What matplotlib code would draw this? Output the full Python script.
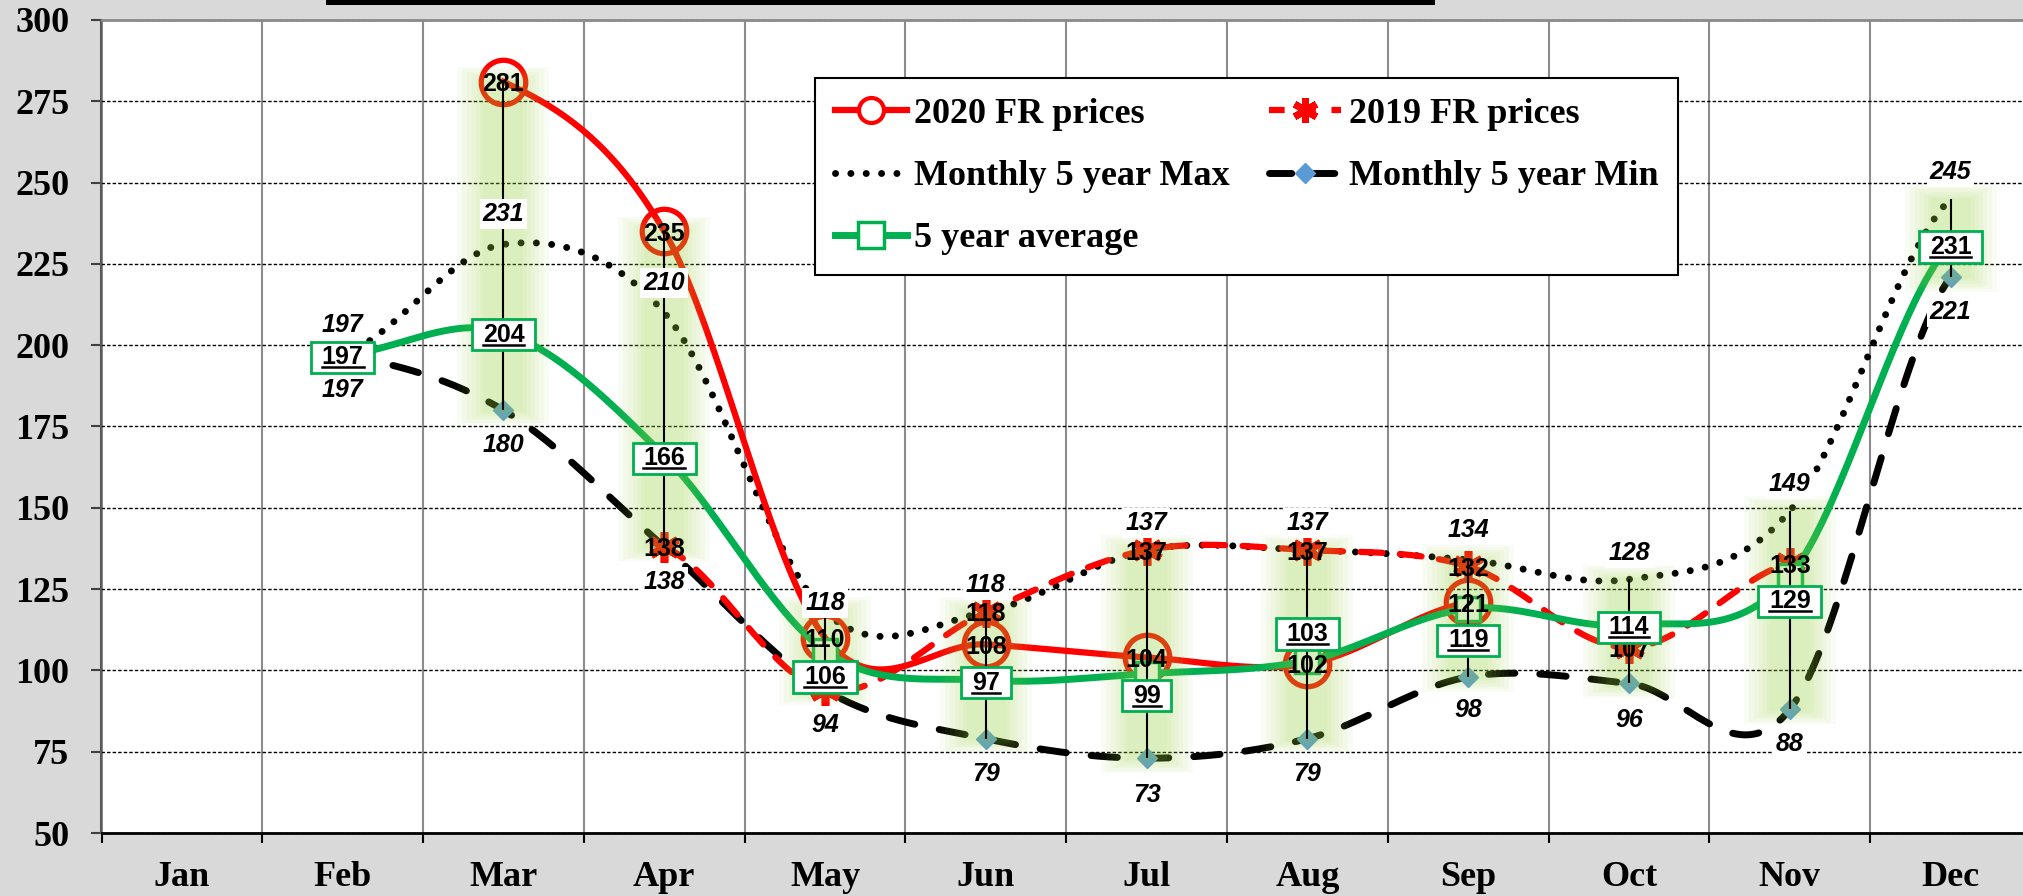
import numpy as np
import matplotlib
matplotlib.use('Agg')
import matplotlib.pyplot as plt
from matplotlib.lines import Line2D
from matplotlib.patches import Rectangle

# ---------------- data ----------------
months = ['Jan', 'Feb', 'Mar', 'Apr', 'May', 'Jun', 'Jul', 'Aug', 'Sep', 'Oct', 'Nov', 'Dec']
nan = np.nan
prices_2020 = [nan, nan, 281, 235, 110, 108, 104, 102, 121, nan, nan, nan]
prices_2019 = [nan, nan, nan, 138, 94, 118, 137, 137, 132, 107, 133, nan]
max_5y = [nan, 197, 231, 210, 118, 118, 137, 137, 134, 128, 149, 245]
min_5y = [nan, 197, 180, 138, 94, 79, 73, 79, 98, 96, 88, 221]
avg_5y = [nan, 197, 204, 166, 106, 97, 99, 103, 119, 114, 129, 231]
show_2019_label = [False, False, False, True, False, True, True, True, True, True, True, False]
y_ticks = [50, 75, 100, 125, 150, 175, 200, 225, 250, 275, 300]

# label placement (value-unit offsets) - styling only
max_lbl_off = [0, 10, 10, 10, 3.5, 9, 9, 9, 10, 9, 9, 9]
min_lbl_off = [0, -10, -10, -10, -10, -10, -10.5, -10, -9.5, -10.5, -10, -10]
avg_lbl_off = [0, 0, 0, 0, -7.3, 0, -6, 9, -9, 0, -7, 0]

RED = '#ff0000'
GREEN = '#00b050'
SERIF = 'Liberation Serif'
SANS = 'Liberation Sans'


def smooth(xs, ys, n=40):
    xs = np.asarray(xs, float)
    ys = np.asarray(ys, float)
    m = ~np.isnan(ys)
    xx, yy = xs[m], ys[m]
    k = len(yy)
    t = np.empty(k)
    for i in range(k):
        if i == 0:
            t[i] = (yy[1] - yy[0]) / 2
        elif i == k - 1:
            t[i] = (yy[-1] - yy[-2]) / 2
        else:
            t[i] = (yy[i + 1] - yy[i - 1]) / 2
    X, Y = [], []
    for i in range(k - 1):
        s = np.linspace(0, 1, n)
        h00 = 2 * s**3 - 3 * s**2 + 1
        h10 = s**3 - 2 * s**2 + s
        h01 = -2 * s**3 + 3 * s**2
        h11 = s**3 - s**2
        Y.append(h00 * yy[i] + h10 * t[i] + h01 * yy[i + 1] + h11 * t[i + 1])
        X.append(xx[i] + s * (xx[i + 1] - xx[i]))
    return np.concatenate(X), np.concatenate(Y)


W, H = 2024, 896
fig = plt.figure(figsize=(W / 100, H / 100), dpi=100, facecolor='#d9d9d9')
ax = fig.add_axes([101.5 / W, 63 / H, 1929.5 / W, 813 / H])
ax.set_facecolor('white')
x = np.arange(len(months))

# title bar remnant at top
fig.add_artist(Rectangle((326 / W, 1 - 5 / H), (1435 - 326) / W, 5 / H,
                         transform=fig.transFigure, color='black', lw=0))

# ---------------- axes styling ----------------
ax.set_xlim(-0.5, 11.5)
ax.set_ylim(50, 300)
ax.set_yticks(y_ticks)
ax.set_yticklabels([str(v) for v in y_ticks], fontfamily=SERIF, fontweight='bold', fontsize=26)
ax.set_xticks(np.arange(-0.5, 12, 1))
ax.set_xticklabels([])
ax.set_xticks(x, minor=True)
ax.set_xticklabels(months, minor=True, fontfamily=SERIF, fontweight='bold', fontsize=26)
ax.tick_params(axis='y', length=7, width=1.5, color='#404040', pad=16)
ax.tick_params(axis='x', which='major', length=7.5, width=1.5, color='black')
ax.tick_params(axis='x', which='minor', length=0, pad=20)
ax.yaxis.grid(True, color='black', ls=(0, (2.5, 1.5)), lw=1)
ax.xaxis.grid(True, which='major', color='#8c8c8c', lw=1.5, ls='-')
ax.set_axisbelow(True)
ax.spines['top'].set_color('#8a8a8a')
ax.spines['top'].set_linewidth(2)
ax.spines['left'].set_color('#595959')
ax.spines['left'].set_linewidth(1.5)
ax.spines['bottom'].set_color('black')
ax.spines['bottom'].set_linewidth(2)
ax.spines['right'].set_visible(False)

# ---------------- series ----------------
sx, sy = smooth(x, min_5y)
ax.plot(sx, sy, color='black', lw=5, ls=(0, (3.8, 3.6)), dash_capstyle='round', zorder=2)
ax.plot(x, min_5y, ls='none', marker='D', ms=10, mfc='#5b9bd5', mec='#5b9bd5', zorder=2.05)

sx, sy = smooth(x, max_5y)
ax.plot(sx, sy, color='black', lw=5, ls=(0, (0.01, 2.2)), dash_capstyle='round', zorder=2.1)

sx, sy = smooth(x, prices_2019)
ax.plot(sx, sy, color=RED, lw=4.5, ls=(0, (3.5, 2.8)), dash_capstyle='round', zorder=2.2)
ax.plot(x, prices_2019, ls='none', marker=(6, 2, 0), ms=22, mew=5.5, color=RED, zorder=2.25)

sx, sy = smooth(x, prices_2020)
ax.plot(sx, sy, color=RED, lw=4.5, zorder=2.3)
ax.plot(x, prices_2020, ls='none', marker='o', ms=32, mfc='none', mec=RED, mew=3.8, zorder=2.35)

sx, sy = smooth(x, avg_5y)
ax.plot(sx, sy, color=GREEN, lw=5, zorder=2.4)
ax.plot(x, avg_5y, ls='none', marker='s', ms=17, mfc='white', mec=GREEN, mew=2.5, zorder=2.45)

# ---------------- high-low lines with glow ----------------
stack = np.vstack([prices_2020, prices_2019, max_5y, min_5y, avg_5y]).astype(float)
hi = np.nanmax(np.where(np.isnan(stack), -np.inf, stack), axis=0)
lo = np.nanmin(np.where(np.isnan(stack), np.inf, stack), axis=0)
sel = np.isfinite(hi) & (hi > lo)
glow_w = [92, 82, 72, 63, 55, 47, 40]
glow_e = [4.5, 3.8, 3.0, 2.3, 1.6, 1.0, 0.4]
for gw, ge in zip(glow_w, glow_e):
    ax.vlines(x[sel], lo[sel] - ge, hi[sel] + ge, colors='#98d43c', lw=gw * 0.72,
              alpha=0.055, zorder=4, capstyle='butt')
ax.vlines(x[sel], lo[sel], hi[sel], colors='black', lw=1.5, zorder=5)

# ---------------- data labels ----------------
lbl = dict(fontfamily=SANS, fontweight='bold', fontsize=18, ha='center', va='center_baseline')
for i, v in enumerate(prices_2020):
    if not np.isnan(v):
        ax.text(i, v, f'{v:.0f}', zorder=8, **lbl)
for i, v in enumerate(prices_2019):
    if not np.isnan(v) and show_2019_label[i]:
        ax.text(i, v, f'{v:.0f}', zorder=8, **lbl)
for i, v in enumerate(max_5y):
    if not np.isnan(v):
        ax.text(i, v + max_lbl_off[i], f'{v:.0f}', style='italic', zorder=8,
                bbox=dict(boxstyle='square,pad=0.12', fc='white', ec='none'), **lbl)
for i, v in enumerate(min_5y):
    if not np.isnan(v):
        ax.text(i, v + min_lbl_off[i], f'{v:.0f}', style='italic', zorder=8,
                bbox=dict(boxstyle='square,pad=0.12', fc='white', ec='none'), **lbl)
avg_texts = []
for i, v in enumerate(avg_5y):
    if not np.isnan(v):
        yy = v + avg_lbl_off[i]
        ax.text(i, yy, f' {v:.0f} ', color='none', zorder=9,
                bbox=dict(boxstyle='square,pad=0.15', fc='white', ec=GREEN, lw=2), **lbl)
        avg_texts.append(ax.text(i, yy, f'{v:.0f}', zorder=10, **lbl))

# ---------------- legend ----------------
h2020 = Line2D([], [], color=RED, lw=4.5, marker='o', ms=18, mfc='white', mec=RED, mew=3)
h2019 = Line2D([], [], color=RED, lw=4.5, ls=(0, (2.5, 2.5)), marker=(6, 2, 0), ms=18, mew=5)
hmax = Line2D([], [], color='black', lw=5, ls=(0, (0.01, 2.2)), dash_capstyle='round')
hmin = Line2D([], [], color='black', lw=5, ls=(0, (3.2, 3.0)), dash_capstyle='round',
              marker='D', ms=10, mfc='#5b9bd5', mec='#5b9bd5')
havg = Line2D([], [], color=GREEN, lw=5, marker='s', ms=19, mfc='white', mec=GREEN, mew=2.5)
leg = ax.legend([h2020, hmax, havg, h2019, hmin],
                ['2020 FR prices', 'Monthly 5 year Max', '5 year average',
                 '2019 FR prices', 'Monthly 5 year Min'],
                ncol=2, loc='upper left', bbox_to_anchor=(0.3698, 0.6, 0.4473, 0.3287),
                mode='expand', borderaxespad=0, borderpad=0.55, labelspacing=0.8,
                handlelength=2.0, handletextpad=0.2, columnspacing=1.0,
                prop=dict(family=SERIF, weight='bold', size=26),
                fancybox=False, framealpha=1, edgecolor='black')
leg.get_frame().set_linewidth(1.5)
leg.set_zorder(12)

# ---------------- underline the average labels ----------------
fig.canvas.draw()
r = fig.canvas.get_renderer()
inv = fig.transFigure.inverted()
for t in avg_texts:
    bb = t.get_window_extent(r)
    y0 = bb.y0 + 2.0
    p0 = inv.transform((bb.x0, y0))
    p1 = inv.transform((bb.x1, y0))
    fig.add_artist(Line2D([p0[0], p1[0]], [p0[1], p1[1]], transform=fig.transFigure,
                          color='black', lw=1.8, zorder=11))

fig.savefig('out.png', dpi=100, facecolor=fig.get_facecolor())
